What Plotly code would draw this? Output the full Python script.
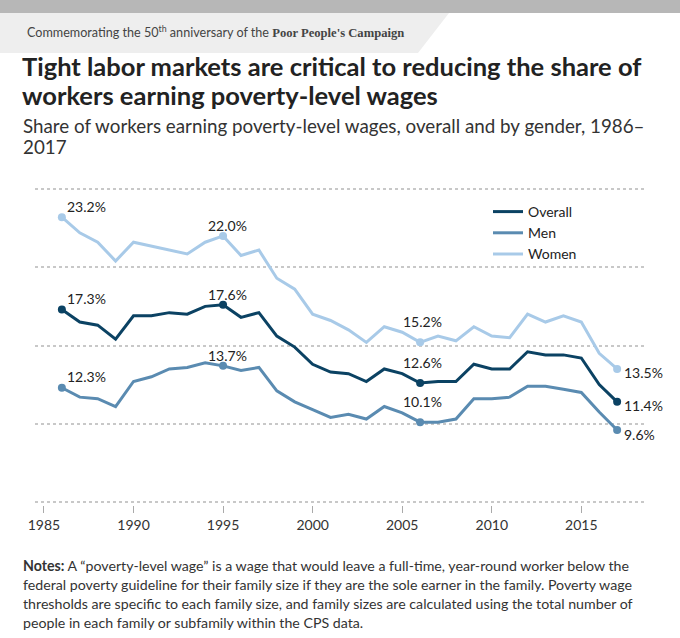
import plotly.graph_objects as go

years = list(range(1986, 2018))
overall = [17.3, 16.5, 16.3, 15.4, 16.9, 16.9, 17.1, 17.0, 17.5, 17.6, 16.8, 17.1,
           15.6, 14.9, 13.8, 13.3, 13.2, 12.7, 13.5, 13.2, 12.6, 12.7, 12.7, 13.8,
           13.5, 13.5, 14.6, 14.4, 14.4, 14.2, 12.5, 11.4]
men = [12.3, 11.7, 11.6, 11.1, 12.7, 13.0, 13.5, 13.6, 13.9, 13.7, 13.4, 13.6,
       12.1, 11.4, 10.9, 10.4, 10.6, 10.3, 11.1, 10.7, 10.1, 10.1, 10.3, 11.6,
       11.6, 11.7, 12.4, 12.4, 12.2, 12.0, 10.75, 9.6]
women = [23.2, 22.2, 21.6, 20.4, 21.6, 21.35, 21.1, 20.85, 21.6, 22.0, 20.75, 21.1,
         19.3, 18.6, 17.0, 16.6, 16.0, 15.2, 16.2, 15.85, 15.2, 15.6, 15.3, 16.2,
         15.6, 15.5, 17.0, 16.5, 16.9, 16.5, 14.5, 13.5]
label_years = [1986, 1995, 2006, 2017]
series_names = ["Overall", "Men", "Women"]
colors = {"Overall": "#0b4263", "Men": "#5a8bb1", "Women": "#a8cae8"}
data = {"Overall": overall, "Men": men, "Women": women}

W, H = 680, 638
L, R, T, B = 35, 36, 186, 133
PW, PH = W - L - R, H - T - B
# y range padded by 3px so the 5% and 25% gridlines are drawn
pad = 3 * (25 - 5) / 313.0

def px(x):
    return (x - L) / PW

def py(y):
    return (H - B - y) / PH

fig = go.Figure()
for name in series_names:
    fig.add_trace(go.Scatter(x=years, y=data[name], mode="lines", name=name,
                             line=dict(color=colors[name], width=3)))
for name in series_names:
    vals = [data[name][years.index(yr)] for yr in label_years]
    fig.add_trace(go.Scatter(x=label_years, y=vals, mode="markers", showlegend=False,
                             marker=dict(color=colors[name], size=8), hoverinfo="skip"))

ann = []
lab_font = dict(family="Lato", size=14, color="#222222")
for name in series_names:
    for yr in label_years:
        v = data[name][years.index(yr)]
        txt = f"{v:.1f}%"
        if yr == 1986:
            ann.append(dict(x=yr, y=v, text=txt, showarrow=False, xanchor="left", yanchor="middle",
                            xshift=3, yshift=11, font=lab_font))
        elif yr == 1995:
            ann.append(dict(x=yr, y=v, text=txt, showarrow=False, xanchor="center", yanchor="middle",
                            xshift=4, yshift=10, font=lab_font))
        elif yr == 2006:
            ann.append(dict(x=yr, y=v, text=txt, showarrow=False, xanchor="center", yanchor="middle",
                            xshift=2, yshift=21, font=lab_font))
        else:
            ann.append(dict(x=yr, y=v, text=txt, showarrow=False, xanchor="left", yanchor="middle",
                            xshift=5, yshift=-4, font=lab_font))

# header
ann.append(dict(xref="paper", yref="paper", x=px(25), y=py(32), xanchor="left", yanchor="middle",
                showarrow=False,
                text="Commemorating the 50<sup>th</sup> anniversary of the "
                     "<span style=\"font-family:'Liberation Serif';font-weight:bold\">Poor People's Campaign</span>",
                font=dict(family="Lato", size=12.6, color="#444444")))
# title
for i, line in enumerate(["Tight labor markets are critical to reducing the share of",
                          "workers earning poverty-level wages"]):
    ann.append(dict(xref="paper", yref="paper", x=px(20), y=py(66 + 29 * i), xanchor="left",
                    yanchor="middle", showarrow=False, text="<b>" + line + "</b>",
                    font=dict(family="Lato", size=25.5, color="#222222")))
for i, line in enumerate(["Share of workers earning poverty-level wages, overall and by gender, 1986–",
                          "2017"]):
    ann.append(dict(xref="paper", yref="paper", x=px(21), y=py(126 + 20 * i), xanchor="left",
                    yanchor="middle", showarrow=False, text=line,
                    font=dict(family="Lato", size=18.8, color="#333333")))
notes = ["<b>Notes:</b> A “poverty-level wage” is a wage that would leave a full-time, year-round worker below the",
         "federal poverty guideline for their family size if they are the sole earner in the family. Poverty wage",
         "thresholds are specific to each family size, and family sizes are calculated using the total number of",
         "people in each family or subfamily within the CPS data."]
for i, line in enumerate(notes):
    ann.append(dict(xref="paper", yref="paper", x=px(21), y=py(565 + 19 * i), xanchor="left",
                    yanchor="middle", showarrow=False, text=line,
                    font=dict(family="Lato", size=14.2, color="#333333")))

shapes = [
    dict(type="rect", xref="paper", yref="paper", x0=px(0), x1=px(680), y0=py(0), y1=py(13),
         fillcolor="#b7b7b7", line=dict(width=0), layer="below"),
    dict(type="path", xref="paper", yref="paper",
         path=f"M {px(0)},{py(13)} L {px(449)},{py(13)} L {px(418)},{py(53)} L {px(0)},{py(53)} Z",
         fillcolor="#eeeeee", line=dict(width=0), layer="below"),
]

fig.update_layout(
    width=W, height=H, margin=dict(l=L, r=R, t=T, b=B),
    paper_bgcolor="white", plot_bgcolor="white",
    annotations=ann, shapes=shapes,
    legend=dict(x=px(488), y=py(196), xanchor="left", yanchor="top",
                font=dict(family="Lato", size=14, color="#222222"),
                bgcolor="rgba(0,0,0,0)", tracegroupgap=0, itemwidth=30),
    xaxis=dict(range=[1984.5, 2018.5], tickvals=[1985, 1990, 1995, 2000, 2005, 2010, 2015],
               ticks="outside", ticklen=7, tickcolor="#aaaaaa", showgrid=False, zeroline=False,
               tickfont=dict(family="Lato", size=14, color="#333333"), showline=False),
    yaxis=dict(range=[5 - pad, 25 + pad], tickvals=[5, 10, 15, 20, 25], showticklabels=False,
               showgrid=True, gridcolor="#c8c8c8", griddash="dot", gridwidth=1.5,
               zeroline=False, showline=False, ticks=""),
    showlegend=True,
)
fig.write_html("out.html", config={"displayModeBar": False},
               post_script="document.body.style.margin='0';")
